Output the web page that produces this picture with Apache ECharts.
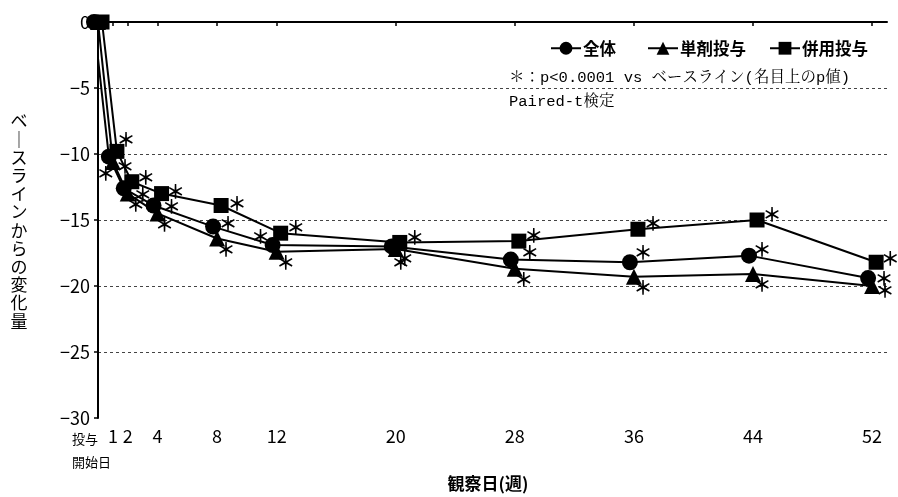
<!DOCTYPE html>
<html>
<head>
<meta charset="utf-8">
<script src="https://cdn.jsdelivr.net/npm/echarts@6/dist/echarts.min.js"></script>
<style>
  html, body { margin: 0; padding: 0; background: #fff; }
  #chart { width: 898px; height: 497px; }
</style>
</head>
<body>
<div id="chart"></div>
<script>
// Observation weeks (0 = start of dosing)
const weeks = [0, 1, 2, 4, 8, 12, 20, 28, 36, 44, 52];
// Change from baseline, per group
const overall = [0, -10.2, -12.6, -13.9, -15.5, -16.9, -17.0, -18.0, -18.2, -17.7, -19.4];
const mono    = [0, -10.6, -13.0, -14.5, -16.4, -17.4, -17.2, -18.7, -19.3, -19.1, -20.0];
const combo   = [0,  -9.8, -12.1, -13.0, -13.9, -16.0, -16.7, -16.6, -15.7, -15.0, -18.2];
const seriesNames = ['全体', '単剤投与', '併用投与'];
const yTicks = [0, -5, -10, -15, -20, -25, -30];
const startLabel = '投与\n開始日';

const FONT = '"Noto Sans CJK JP", "Noto Sans", sans-serif';

// Small horizontal dodge (in weeks) so the three groups don't sit on top of each other
const dodge = [-0.27, 0, 0.27];

// Placement of the significance mark next to each point: default and per-week overrides
const markOffset = [
  { def: [15, -5], by: { 1: [-3, 17], 2: [19, 6], 4: [18, 1], 8: [15, -3], 12: [-12, -8], 20: [13, 12], 28: [19, -7], 36: [13, -9], 44: [13, -6], 52: [16, 1] } },
  { def: [9, 11], by: { 1: [12, 5], 2: [8, 11], 4: [7, 11], 20: [5, 14], 52: [13, 5] } },
  { def: [15, -5], by: { 1: [9, -12], 2: [14, -4], 4: [14, -2], 8: [16, -2], 52: [14, -3] } }
];
const symbols = ['circle', 'triangle', 'rect'];
const symbolSizes = [16, 16, 15];
// left edge of each legend entry
const legendLeft = [545, 642, 764];

function buildData(values, idx) {
  return weeks.map((w, i) => {
    const item = { value: [w + dodge[idx], values[i]] };
    if (w === 0) {
      item.label = { show: false };
    } else {
      const off = markOffset[idx].by[w] || markOffset[idx].def;
      item.label = { offset: off };
    }
    return item;
  });
}

const allValues = [overall, mono, combo];

const series = allValues.map((vals, idx) => ({
  name: seriesNames[idx],
  type: 'line',
  data: buildData(vals, idx),
  symbol: symbols[idx],
  symbolSize: symbolSizes[idx],
  clip: false,
  lineStyle: { color: '#000', width: 2 },
  itemStyle: { color: '#000' },
  label: {
    show: true,
    position: 'inside',
    formatter: '＊',
    color: '#000',
    fontSize: 19,
    fontWeight: 'bold',
    fontFamily: FONT
  },
  emphasis: { disabled: true },
  animation: false
}));

const legends = seriesNames.map((name, idx) => ({
  data: [name],
  left: legendLeft[idx],
  top: 35,
  itemWidth: 30,
  itemHeight: 16,
  selectedMode: false,
  textStyle: { fontSize: 16.5, fontWeight: 'bold', color: '#000', fontFamily: FONT, padding: [0, 0, 0, -3] }
}));

const chart = echarts.init(document.getElementById('chart'), null, { renderer: 'canvas' });

chart.setOption({
  backgroundColor: '#fff',
  animation: false,
  grid: { left: 98, right: 11, top: 22, bottom: 79, containLabel: false },
  legend: legends,
  xAxis: {
    type: 'value',
    min: 0,
    max: 53,
    axisLine: { show: true, lineStyle: { color: '#000', width: 2 } },
    axisTick: { show: true, length: 4, lineStyle: { color: '#000', width: 1.5 }, customValues: weeks },
    splitLine: { show: false },
    axisLabel: {
      customValues: weeks.filter(w => w !== 0),
      margin: 9,
      fontSize: 18,
      color: '#000',
      fontFamily: FONT
    }
  },
  yAxis: {
    type: 'value',
    min: -30,
    max: 0,
    interval: 5,
    axisLine: { show: true, lineStyle: { color: '#000', width: 2 } },
    axisTick: { show: true, length: 4, lineStyle: { color: '#000', width: 1.5 } },
    axisLabel: {
      customValues: yTicks,
      margin: 8,
      fontSize: 18,
      color: '#000',
      fontFamily: FONT,
      formatter: v => String(v).replace('-', '−')
    },
    splitLine: {
      show: true,
      showMaxLine: false,
      showMinLine: false,
      lineStyle: { color: '#444', width: 1, type: [3, 3] }
    }
  },
  graphic: [
    {
      // vertical axis title, one character per line
      type: 'text',
      x: 19,
      y: 221,
      style: {
        text: ['ベ', '｜', 'ス', 'ラ', 'イ', 'ン', 'か', 'ら', 'の', '変', '化', '量'].join('\n'),
        fontSize: 17,
        lineHeight: 18.2,
        fontFamily: FONT,
        fill: '#000',
        align: 'center',
        verticalAlign: 'middle'
      }
    },
    {
      // label for week 0 under the first tick
      type: 'text',
      x: 72,
      y: 428,
      style: {
        text: startLabel,
        fontSize: 13,
        lineHeight: 23,
        fontFamily: FONT,
        fill: '#000',
        align: 'left',
        verticalAlign: 'top'
      }
    },
    {
      type: 'text',
      x: 488,
      y: 484,
      style: {
        text: '観察日(週)',
        fontSize: 17,
        fontWeight: 'bold',
        fontFamily: FONT,
        fill: '#000',
        align: 'center',
        verticalAlign: 'middle'
      }
    },
    {
      type: 'text',
      x: 509,
      y: 66,
      style: {
        text: '＊：p<0.0001 vs ベースライン(名目上のp値)\nPaired-t検定',
        fontSize: 15.5,
        lineHeight: 24,
        fontFamily: '"Liberation Mono", "Noto Serif CJK JP", "Noto Sans CJK JP", monospace',
        fill: '#000',
        align: 'left',
        verticalAlign: 'top'
      }
    }
  ],
  series: series
});
</script>
</body>
</html>
